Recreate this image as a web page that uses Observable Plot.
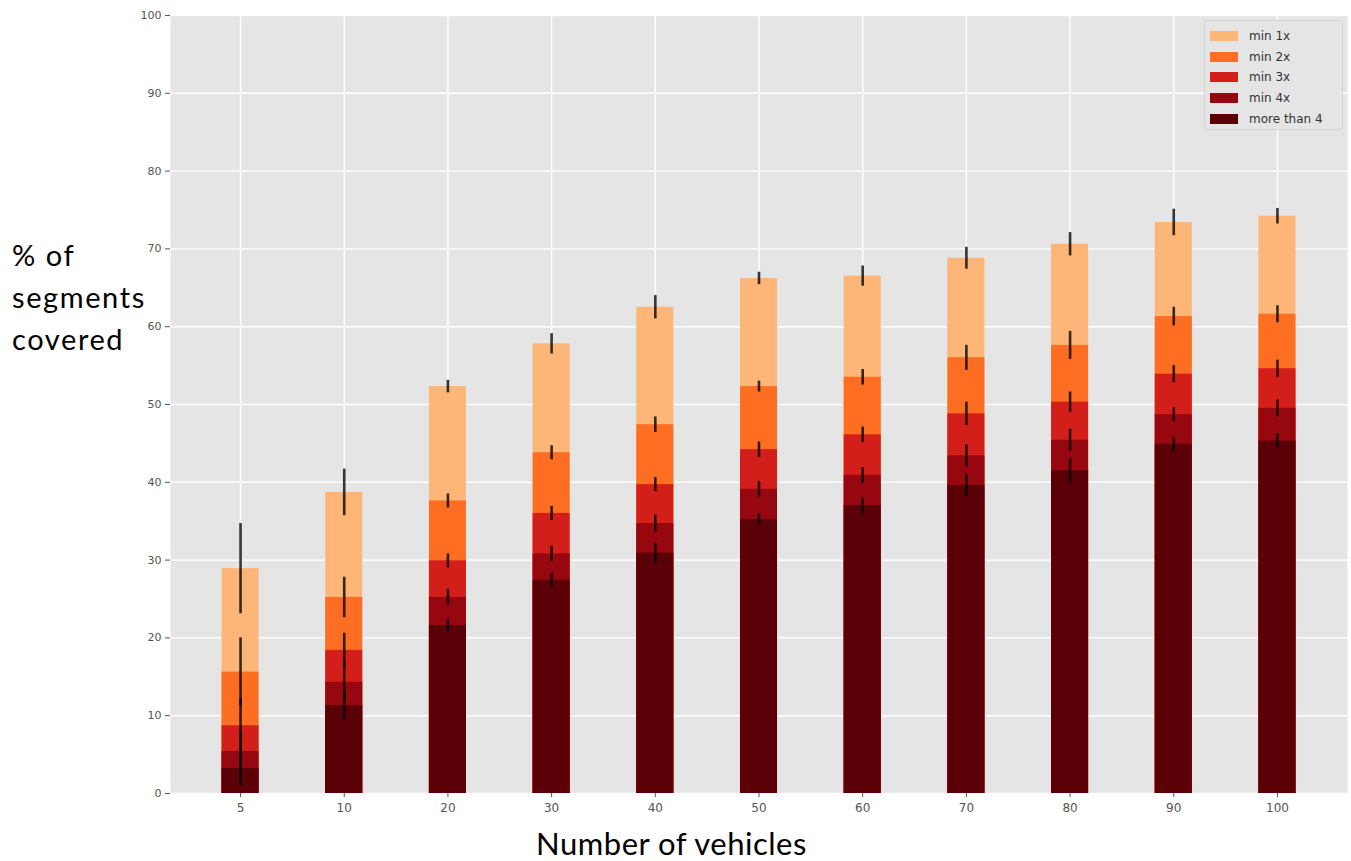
<!DOCTYPE html>
<html>
<head>
<meta charset="utf-8">
<script src="https://cdn.jsdelivr.net/npm/d3@7"></script>
<script src="https://cdn.jsdelivr.net/npm/@observablehq/plot@0.6"></script>
<style>
  body { margin: 0; background: white; width: 1351px; height: 861px; position: relative; overflow: hidden; }
  #chart { position: absolute; left: 0; top: 0; }
  #ylabel { position: absolute; left: 12px; top: 234px; font-family: Lato, "Liberation Sans", sans-serif; font-size: 29px; letter-spacing: 1.6px; line-height: 42px; color: #000; white-space: nowrap; }
  #xlabel { position: absolute; left: 0; width: 1343px; top: 825px; text-align: center; font-family: Lato, "Liberation Sans", sans-serif; font-size: 31px; letter-spacing: 0.5px; line-height: 36px; color: #000; white-space: nowrap; }
  #legend { position: absolute; left: 1204px; top: 20px; width: 139px; height: 110px; background: #e5e5e5; border: 1px solid #d4d4d4; border-radius: 3px; box-sizing: border-box; font-family: "DejaVu Sans", sans-serif; font-size: 12px; color: #333; }
  .item { position: absolute; left: 5px; height: 14px; display: flex; align-items: center; }
  .sw { width: 28px; height: 10px; margin-right: 11px; }
</style>
</head>
<body>
<div id="chart"></div>
<div id="ylabel">% of<br>segments<br>covered</div>
<div id="xlabel">Number of vehicles</div>
<div id="legend"></div>
<script>
const categories = ["5","10","20","30","40","50","60","70","80","90","100"];
const seriesNames = ["min 1x","min 2x","min 3x","min 4x","more than 4"];
const seriesColors = ["#fdb578","#fd6d22","#d31f1a","#970710","#5a0006"];
const yTicks = [0,10,20,30,40,50,60,70,80,90,100];

const min1x     = [28.9, 38.7, 52.3, 57.8, 62.5, 66.2, 66.5, 68.8, 70.6, 73.4, 74.2];
const min1xErr  = [5.8, 3.0, 0.8, 1.3, 1.5, 0.8, 1.3, 1.4, 1.5, 1.7, 1.0];
const min2x     = [15.6, 25.2, 37.6, 43.8, 47.4, 52.3, 53.5, 56.0, 57.6, 61.3, 61.6];
const min2xErr  = [4.4, 2.6, 0.9, 0.9, 1.0, 0.7, 1.0, 1.6, 1.8, 1.2, 1.1];
const min3x     = [8.7, 18.4, 29.9, 36.0, 39.7, 44.2, 46.1, 48.8, 50.3, 53.9, 54.6];
const min3xErr  = [3.5, 2.2, 0.9, 0.9, 0.9, 1.0, 1.0, 1.5, 1.3, 1.1, 1.1];
const min4x     = [5.4, 14.3, 25.2, 30.8, 34.7, 39.1, 40.9, 43.4, 45.4, 48.7, 49.5];
const min4xErr  = [2.5, 2.5, 1.0, 1.0, 1.1, 1.0, 1.0, 1.4, 1.4, 0.9, 1.1];
const more4     = [3.2, 11.3, 21.6, 27.4, 30.9, 35.2, 37.0, 39.6, 41.5, 44.9, 45.3];
const more4Err  = [2.2, 1.9, 0.8, 0.9, 1.3, 0.7, 1.0, 1.4, 1.6, 0.9, 0.9];

const seriesValues = [min1x, min2x, min3x, min4x, more4];
const seriesErrors = [min1xErr, min2xErr, min3xErr, min4xErr, more4Err];

const tables = seriesNames.map((name, s) =>
  categories.map((c, i) => ({
    cat: c, series: name, value: seriesValues[s][i],
    lo: seriesValues[s][i] - seriesErrors[s][i],
    hi: seriesValues[s][i] + seriesErrors[s][i]
  }))
);

const marks = [
  Plot.frame({fill: "#e5e5e5", stroke: null}),
  Plot.gridY(yTicks, {stroke: "white", strokeOpacity: 1, strokeWidth: 1.4}),
  Plot.gridX(categories, {stroke: "white", strokeOpacity: 1, strokeWidth: 1.4}),
  Plot.axisY(yTicks, {tickSize: 5, tickPadding: 4, fontSize: 11, fill: "#555", stroke: "#555", label: null}),
  Plot.axisX(categories, {tickSize: 4, tickPadding: 6, fontSize: 12, fill: "#555", stroke: "#555", label: null})
];
tables.forEach((t, s) => {
  marks.push(Plot.barY(t, {x: "cat", y1: 0, y2: "value", fill: seriesColors[s], inset: 0}));
});
tables.forEach((t, s) => {
  marks.push(Plot.ruleX(t, {x: "cat", y1: "lo", y2: "hi", stroke: "black", strokeWidth: 2.6, strokeOpacity: 0.78}));
});

const chart = Plot.plot({
  width: 1351,
  height: 826,
  marginLeft: 170,
  marginRight: 4,
  marginTop: 15,
  marginBottom: 33,
  style: {fontFamily: "DejaVu Sans, sans-serif", background: "white"},
  x: {type: "band", domain: categories, paddingInner: 0.643, paddingOuter: 0.497, align: 0.5, round: false, axis: null},
  y: {domain: [0, 100], axis: null},
  marks
});
document.getElementById("chart").appendChild(chart);

const legend = document.getElementById("legend");
seriesNames.forEach((name, s) => {
  const item = document.createElement("div");
  item.className = "item";
  item.style.top = (8 + s * 20.7) + "px";
  const sw = document.createElement("div");
  sw.className = "sw";
  sw.style.background = seriesColors[s];
  const label = document.createElement("span");
  label.textContent = name;
  item.appendChild(sw);
  item.appendChild(label);
  legend.appendChild(item);
});
</script>
</body>
</html>
